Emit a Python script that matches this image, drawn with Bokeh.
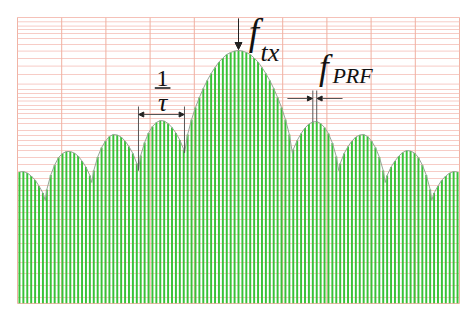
from bokeh.plotting import figure
from bokeh.models import Label, Arrow, NormalHead, Range1d
from bokeh.embed import file_html
from bokeh.resources import INLINE

# Spectral line offsets from f_tx, in units of f_PRF
line_offsets = list(range(-56, 57))
# Level of each spectral line (dB relative to the carrier)
line_levels = [
    -24.3, -24.2, -24.5, -25.1, -25.9, -27.1, -28.5, -27.8, -24.9, -22.9,
    -21.4, -20.6, -20.2, -20.2, -20.5, -21.1, -22.1, -23.3, -25.0, -24.0,
    -21.3, -19.4, -18.1, -17.2, -16.8, -16.9, -17.3, -18.1, -19.2, -20.6,
    -22.6, -21.0, -18.4, -16.5, -15.2, -14.4, -14.0, -14.1, -14.6, -15.4,
    -16.5, -17.9, -19.8, -16.8, -13.8, -11.4, -9.4, -7.6, -6.0, -4.6,
    -3.4, -2.3, -1.5, -0.8, -0.4, -0.1,
    0.0,
    -0.1, -0.4, -0.8, -1.5, -2.3, -3.4, -4.6, -6.0, -7.6, -9.4,
    -11.4, -13.8, -16.8, -19.8, -18.0, -16.6, -15.5, -14.7, -14.3, -14.2,
    -14.6, -15.4, -16.6, -18.5, -21.2, -22.6, -20.6, -19.2, -18.1, -17.3,
    -16.9, -16.8, -17.2, -18.1, -19.4, -21.3, -24.0, -25.0, -23.3, -22.1,
    -21.1, -20.4, -20.0, -20.1, -20.5, -21.4, -22.9, -24.9, -27.8, -28.5,
    -27.1, -25.9, -25.1, -24.5, -24.2, -24.3,
]
# Envelope nulls (offset, level)
null_offsets = [-49.4, -37.5, -25.6, -13.8, 13.8, 25.6, 37.5, 49.4]
null_levels = [-30.0, -26.4, -24.0, -20.5, -20.6, -24.0, -26.4, -30.0]

# Background grid
x_grid = [-56.5, -45.2, -33.9, -22.6, -11.3, 0.0, 11.3, 22.6, 33.9, 45.2, 56.5]
y_grid = [6.6, 5.74, 4.88, 4.2, 3.4, 2.4, 1.2, -0.12, -1.6, -3.12, -4.8, -6.72,
          -7.8, -8.6, -9.4, -10.1, -11.0, -11.8, -12.6, -13.6, -14.6, -16.0,
          -17.0, -18.0, -19.0, -20.0, -21.4, -22.8, -24.2, -25.6, -27.0, -28.0,
          -29.0, -30.0, -31.2, -32.4, -33.8, -35.2, -36.8, -38.6, -40.4, -42.4,
          -44.6, -47.0, -49.4]

X_MIN, X_MAX = -56.5, 56.5
Y_MIN, Y_MAX = -50.6, 6.6

p = figure(width=474, height=330, output_backend="svg", toolbar_location=None,
           x_axis_type=None, y_axis_type=None,
           x_range=Range1d(X_MIN, X_MAX), y_range=Range1d(Y_MIN, Y_MAX),
           min_border_left=17, min_border_right=15, min_border_top=17,
           min_border_bottom=27)
p.outline_line_color = "#f2b6aa"
p.background_fill_color = "white"
p.border_fill_color = "white"

# grid
p.segment(x0=[X_MIN] * len(y_grid), y0=y_grid, x1=[X_MAX] * len(y_grid), y1=y_grid,
          line_color="#f7ccc6", line_width=1)
p.segment(x0=x_grid, y0=[Y_MIN] * len(x_grid), x1=x_grid, y1=[Y_MAX] * len(x_grid),
          line_color="#f0b0a0", line_width=1)

# spectral lines
p.vbar(x=line_offsets, top=line_levels, bottom=Y_MIN, width=0.5,
       fill_color="#38c238", line_color=None)

# envelope
env = sorted(zip(line_offsets + null_offsets, line_levels + null_levels))
p.line([e[0] for e in env], [e[1] for e in env], line_color="#95a595", line_width=1)

dim = "#555555"
head = dict(fill_color="#222222", line_color="#222222")
# f_tx arrow
p.add_layout(Arrow(end=NormalHead(size=7, **head),
                   x_start=0, y_start=6.4, x_end=0, y_end=0.2,
                   line_color="#222222", line_width=1))
# 1/tau dimension
p.segment(x0=[-25.57, -13.81], y0=[-11.2, -11.2], x1=[-25.57, -13.81], y1=[-24.0, -20.5],
          line_color=dim, line_width=1)
p.add_layout(Arrow(start=NormalHead(size=5, **head), end=NormalHead(size=5, **head),
                   x_start=-25.5, y_start=-12.8, x_end=-13.9, y_end=-12.8,
                   line_color=dim, line_width=1))
p.segment(x0=[-21.4], y0=[-7.5], x1=[-17.4], y1=[-7.5], line_color="#111111", line_width=1.5)

# f_PRF dimension
p.segment(x0=[19.0, 20.0], y0=[-8.0, -8.0], x1=[19.0, 20.0], y1=[-14.3, -14.2],
          line_color=dim, line_width=1)
p.add_layout(Arrow(end=NormalHead(size=5, **head),
                   x_start=12.5, y_start=-9.6, x_end=18.9, y_end=-9.6,
                   line_color=dim, line_width=1))
p.add_layout(Arrow(end=NormalHead(size=5, **head),
                   x_start=26.6, y_start=-9.6, x_end=20.1, y_end=-9.6,
                   line_color=dim, line_width=1))

serif = "Liberation Serif"
def lab(x, y, t, size, style="italic", align="left"):
    p.add_layout(Label(x=x, y=y, text=t, text_font=serif, text_font_style=style,
                       text_font_size=size, text_color="#111111", text_align=align,
                       text_baseline="alphabetic"))

lab(2.6, 3.7, "f", "37px")
lab(5.6, -0.3, "tx", "26px")
lab(20.6, -3.3, "f", "35px")
lab(24.0, -5.0, "PRF", "22px")
lab(-19.4, -5.6, "1", "24px", style="normal", align="center")
lab(-19.4, -10.3, "τ", "26px", align="center")

open("out.html", "w").write(file_html(p, INLINE))
